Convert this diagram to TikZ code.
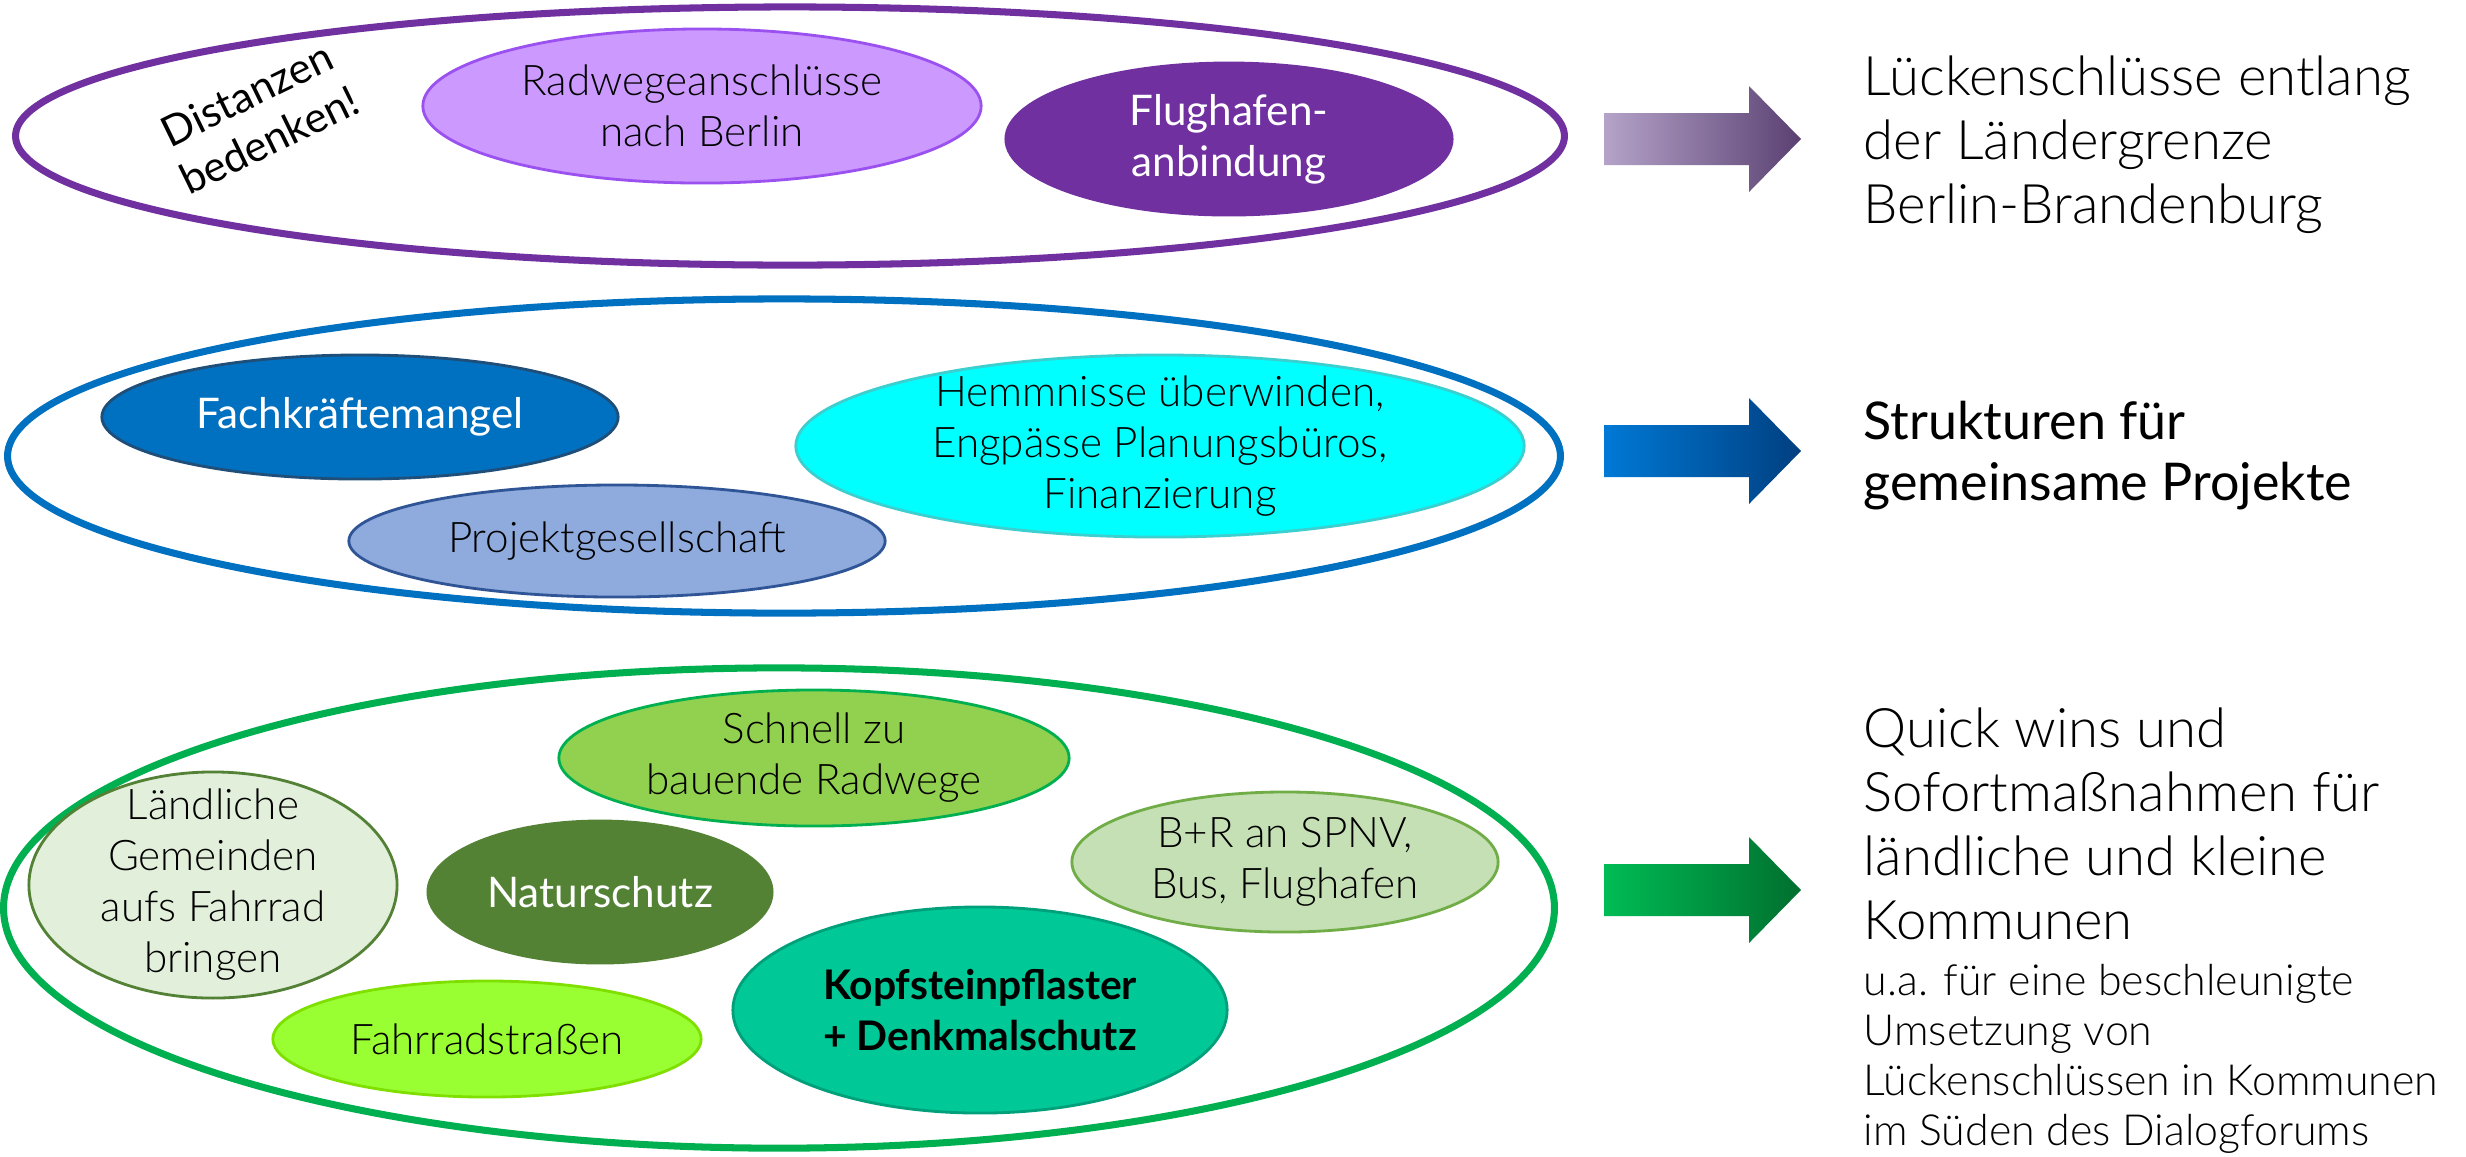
\documentclass[tikz,border=0pt]{standalone}
\usepackage{fontspec}
\setmainfont{Lato}
\newfontfamily\thinfont{Lato Light}

\definecolor{purp}{HTML}{7030A0}
\definecolor{lilac}{HTML}{CC99FF}
\definecolor{lilacline}{HTML}{9B51F0}
\definecolor{blu}{HTML}{0070C0}
\definecolor{bluline}{HTML}{1F4E79}
\definecolor{cyanfill}{HTML}{00FFFF}
\definecolor{cyanline}{HTML}{3CCFCF}
\definecolor{paleblu}{HTML}{8FAADC}
\definecolor{palebluline}{HTML}{2F5597}
\definecolor{grn}{HTML}{00B050}
\definecolor{lime}{HTML}{92D050}
\definecolor{mint}{HTML}{E2EFDA}
\definecolor{mintline}{HTML}{538135}
\definecolor{moss}{HTML}{548235}
\definecolor{sage}{HTML}{C5E0B4}
\definecolor{sageline}{HTML}{70AD47}
\definecolor{kopf}{HTML}{00C896}
\definecolor{kopfline}{HTML}{00A07A}
\definecolor{neon}{HTML}{99FF33}
\definecolor{neonline}{HTML}{7FE000}
\definecolor{arrAa}{HTML}{B5A3C9}
\definecolor{arrAb}{HTML}{5A4072}
\definecolor{arrBa}{HTML}{0079D6}
\definecolor{arrBb}{HTML}{003F80}
\definecolor{arrCa}{HTML}{00BC55}
\definecolor{arrCb}{HTML}{006F2E}

\begin{document}
\begin{tikzpicture}[x=0.01cm,y=-0.01cm,
  ring/.style={line width=2pt,fill=white},
  blob/.style={line width=0.8pt},
  lbl/.style={inner sep=0,align=center,font=\thinfont\fontsize{12}{14.5}\selectfont},
  side/.style={anchor=north west,inner sep=0,align=left,font=\thinfont\fontsize{15.5}{18.2}\selectfont}]
\path[fill=white] (0,0) rectangle (2466,1156);

% outer rings
\draw[ring,draw=purp] (790,136) ellipse [x radius=7.74cm,y radius=1.29cm];
\draw[ring,draw=blu] (784,456) ellipse [x radius=7.76cm,y radius=1.57cm];
\draw[ring,draw=grn] (779,908) ellipse [x radius=7.75cm,y radius=2.40cm];

\coordinate (radweg) at (702,106);
\coordinate (flug) at (1229,139);
\coordinate (fach) at (360,417);
\coordinate (hemm) at (1160,446);
\coordinate (projekt) at (617,541);
\coordinate (schnell) at (814,758);
\coordinate (land) at (213,885);
\coordinate (natur) at (600,892);
\coordinate (bur) at (1285,862);
\coordinate (kopfst) at (980,1010);
\coordinate (fstr) at (487,1039);

\foreach \c/\rx/\ry/\f/\d in {radweg/2.79cm/.77cm/lilac/lilacline,flug/2.23cm/.76cm/purp/purp,
  fach/2.58cm/.62cm/blu/bluline,hemm/3.64cm/.91cm/cyanfill/cyanline,projekt/2.68cm/.56cm/paleblu/palebluline,
  schnell/2.55cm/.68cm/lime/grn,land/1.84cm/1.13cm/mint/mintline,natur/1.72cm/.71cm/moss/moss,
  bur/2.13cm/.70cm/sage/sageline,kopfst/2.47cm/1.03cm/kopf/kopfline,fstr/2.14cm/.58cm/neon/neonline}
  \filldraw[blob,fill=\f,draw=\d] (\c) ellipse [x radius=\rx,y radius=\ry];

\node[lbl,font=\fontsize{12}{14.5}\selectfont,rotate=26] (dist) at (258,117) {Distanzen\\bedenken!};
\node[lbl] (l0) at (radweg) {Radwegeanschlüsse\\nach Berlin};
\node[lbl,text=white,font=\fontsize{12}{14.5}\selectfont] (l1) at (flug) {Flughafen-\\anbindung};
\node[lbl,text=white,font=\fontsize{12}{14.5}\selectfont] (l2) at (fach) {Fachkräftemangel};
\node[lbl] (l3) at (hemm) {Hemmnisse überwinden,\\Engpässe Planungsbüros,\\Finanzierung};
\node[lbl] (l4) at (projekt) {Projektgesellschaft};
\node[lbl] (l5) at (schnell) {Schnell zu\\bauende Radwege};
\node[lbl] (l6) at (land) {Ländliche\\Gemeinden\\aufs Fahrrad\\bringen};
\node[lbl,text=white,font=\fontsize{12}{14.5}\selectfont] (l7) at (natur) {Naturschutz};
\node[lbl] (l8) at (bur) {B+R an SPNV,\\Bus, Flughafen};
\node[lbl,font=\bfseries\fontsize{11.6}{14.5}\selectfont] (l9) at (kopfst) {Kopfsteinpflaster\\+ Denkmalschutz};
\node[lbl] (l10) at (fstr) {Fahrradstraßen};

% block arrows
\foreach \y/\a/\b in {139/arrAa/arrAb,451/arrBa/arrBb,890/arrCa/arrCb}
  \shade[left color=\a,right color=\b] (1604,\y-26) -- (1749,\y-26) -- (1749,\y-53) -- (1801,\y)
    -- (1749,\y+53) -- (1749,\y+26) -- (1604,\y+26) -- cycle;

\node[side] (t0) at (1863,55) {Lückenschlüsse entlang\\der Ländergrenze\\Berlin-Brandenburg};
\node[side,font=\fontsize{14.8}{17.6}\selectfont] (t1) at (1863,400) {Strukturen für\\gemeinsame Projekte};
\node[side] (t2) at (1863,707) {Quick wins und\\Sofortmaßnahmen für\\ländliche und kleine\\Kommunen};
\node[side,font=\thinfont\fontsize{12.2}{14.2}\selectfont] (t3) at (1863,964) {u.a. für eine beschleunigte\\Umsetzung von\\Lückenschlüssen in Kommunen\\im Süden des Dialogforums};
\end{tikzpicture}
\end{document}
